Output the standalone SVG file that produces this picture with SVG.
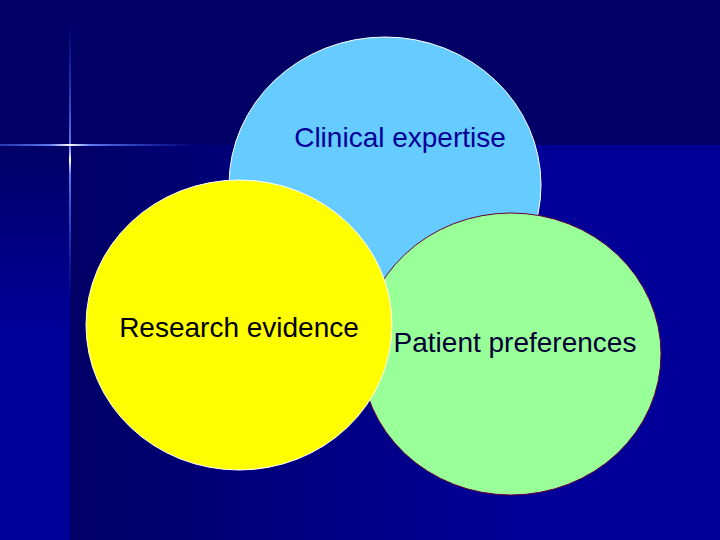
<svg xmlns="http://www.w3.org/2000/svg" width="720" height="540" viewBox="0 0 720 540">
<defs>
<linearGradient id="main" x1="70" y1="0" x2="520" y2="0" gradientUnits="userSpaceOnUse">
<stop offset="0" stop-color="#000066"/>
<stop offset="1" stop-color="#000099"/>
</linearGradient>
<linearGradient id="leftband" x1="0" y1="145" x2="0" y2="330" gradientUnits="userSpaceOnUse">
<stop offset="0" stop-color="#000066"/>
<stop offset="1" stop-color="#00009a"/>
</linearGradient>
<linearGradient id="vline" x1="0" y1="20" x2="0" y2="300" gradientUnits="userSpaceOnUse">
<stop offset="0" stop-color="#3355ff" stop-opacity="0"/>
<stop offset="0.45" stop-color="#6688ff" stop-opacity="0.9"/>
<stop offset="0.5" stop-color="#ffffff"/>
<stop offset="0.55" stop-color="#6688ff" stop-opacity="0.9"/>
<stop offset="1" stop-color="#3355ff" stop-opacity="0"/>
</linearGradient>
<linearGradient id="hline" x1="-60" y1="0" x2="200" y2="0" gradientUnits="userSpaceOnUse">
<stop offset="0" stop-color="#3355ff" stop-opacity="0"/>
<stop offset="0.42" stop-color="#6688ff" stop-opacity="0.9"/>
<stop offset="0.5" stop-color="#ffffff"/>
<stop offset="0.58" stop-color="#6688ff" stop-opacity="0.9"/>
<stop offset="1" stop-color="#3355ff" stop-opacity="0"/>
</linearGradient>
</defs>
<style>
.lbl{font-family:"Liberation Sans",Arial,sans-serif;font-size:28px}
</style>
<g id="background">
<rect x="0" y="0" width="720" height="540" fill="#000066"/>
<rect x="70" y="145" width="650" height="395" fill="url(#main)"/>
<rect x="0" y="145" width="70" height="395" fill="url(#leftband)"/>
<rect x="69" y="20" width="2" height="280" fill="url(#vline)"/>
<rect x="-60" y="144" width="260" height="2" fill="url(#hline)"/>
</g>
<g id="clinical">
<ellipse cx="385" cy="185" rx="156" ry="148" fill="#66CCFF" stroke="#ffffff" stroke-width="1"/>
<text class="lbl" x="400" y="147" text-anchor="middle" fill="#000099">Clinical expertise</text>
</g>
<g id="patient">
<ellipse cx="511" cy="354" rx="150" ry="141" fill="#99FF99" stroke="#660033" stroke-width="1"/>
<text class="lbl" x="515" y="352" text-anchor="middle" fill="#000033">Patient preferences</text>
</g>
<g id="research">
<ellipse cx="239" cy="325" rx="153" ry="145" fill="#FFFF00" stroke="#ffffff" stroke-width="1"/>
<text class="lbl" x="239" y="337" text-anchor="middle" fill="#000000">Research evidence</text>
</g>
<g id="connectors"></g>
</svg>
